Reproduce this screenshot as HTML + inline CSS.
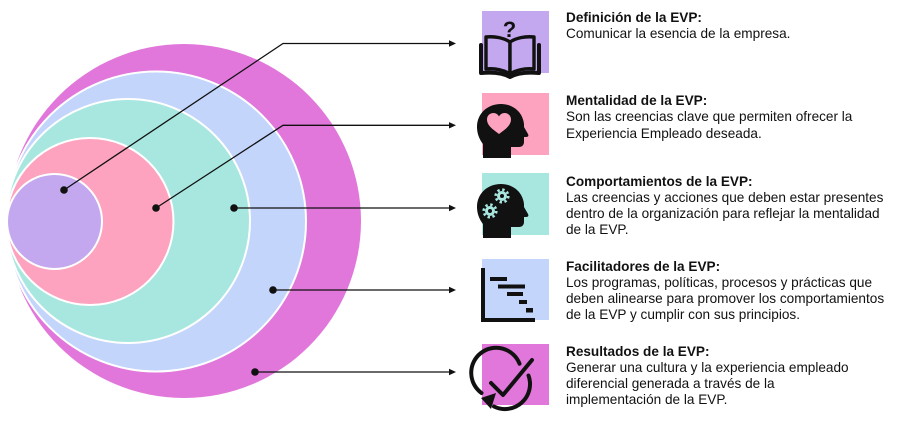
<!DOCTYPE html>
<html>
<head>
<meta charset="utf-8">
<style>
  html,body{margin:0;padding:0;background:#fff;}
  body{width:900px;height:422px;position:relative;overflow:hidden;}
  svg{position:absolute;left:0;top:0;}
  .t{position:absolute;left:566px;font-family:"Liberation Sans",Arial,sans-serif;font-size:13.6px;line-height:16.3px;color:#111;white-space:nowrap;}
  .t b{font-weight:bold;}
</style>
</head>
<body>
<svg width="900" height="422" viewBox="0 0 900 422">
  <!-- concentric circles -->
  <circle cx="184" cy="221" r="177" fill="#E277DB"/>
  <circle cx="156" cy="221.5" r="150" fill="#C3D5FB" stroke="#fff" stroke-width="2"/>
  <circle cx="128" cy="221" r="122" fill="#A8E7E0" stroke="#fff" stroke-width="2"/>
  <circle cx="90" cy="221.5" r="83.5" fill="#FDA3BF" stroke="#fff" stroke-width="2"/>
  <circle cx="54.5" cy="221.5" r="47.5" fill="#C3A8EF" stroke="#fff" stroke-width="2"/>

  <!-- connectors -->
  <g stroke="#111" stroke-width="1.3" fill="none">
    <polyline points="64,190 283,43.5 450,43.5"/>
    <polyline points="156,208 283,125.3 450,125.3"/>
    <polyline points="234,208 450,208"/>
    <polyline points="273,290 450,290"/>
    <polyline points="255,372 450,372"/>
  </g>
  <g fill="#111">
    <polygon points="449,40.3 456,43.5 449,46.7"/>
    <polygon points="449,122.1 456,125.3 449,128.5"/>
    <polygon points="449,204.8 456,208 449,211.2"/>
    <polygon points="449,286.8 456,290 449,293.2"/>
    <polygon points="449,368.8 456,372 449,375.2"/>
    <circle cx="64" cy="190" r="3.8"/>
    <circle cx="156" cy="208" r="3.8"/>
    <circle cx="234" cy="208" r="3.8"/>
    <circle cx="273" cy="290" r="3.8"/>
    <circle cx="255" cy="372" r="3.8"/>
  </g>

  <!-- icon squares -->
  <rect x="482" y="11" width="67" height="62" fill="#C3A8EF"/>
  <rect x="482" y="93" width="67" height="62" fill="#FDA3BF"/>
  <rect x="482" y="173" width="67" height="62" fill="#A8E7E0"/>
  <rect x="482" y="259" width="67" height="61" fill="#C3D5FB"/>
  <rect x="482" y="344" width="67" height="61" fill="#E277DB"/>

  <!-- icon 1: book with question mark -->
  <g transform="translate(478,25)" stroke="#111" stroke-width="3.4" stroke-linejoin="round" stroke-linecap="round">
    <path d="M 3 20 L 3 48 C 14 47, 25 48, 32 52 C 39 48, 50 47, 61 48 L 61 20" fill="none" stroke-width="4"/>
    <path d="M 32 49 C 26 45, 17 43, 8 44 L 8 12 C 17 11, 26 13, 32 17 Z" fill="#C3A8EF"/>
    <path d="M 32 49 C 38 45, 47 43, 56 44 L 56 12 C 47 11, 38 13, 32 17 Z" fill="#C3A8EF"/>
  </g>
  <text x="509.5" y="37" text-anchor="middle" font-family="Liberation Sans, Arial, sans-serif" font-weight="bold" font-size="22" fill="#111">?</text>

  <!-- icon 2: head with heart -->
  <g transform="translate(477,104)">
    <path d="M 6 54 L 6 40 C 2 35, 0 29, 0 23 C 0 10, 10 0, 24 0 C 37 0, 46 9, 47 20 L 47 23 L 51 30 C 52 32, 51 33, 49 33 L 47 33 L 47 38 C 47 41, 45 43, 42 43 L 34 43 L 34 54 Z" fill="#111"/>
    <path d="M22 30 C 15 25, 10 21, 10 15.5 C 10 11.5, 13 9, 16.5 9 C 19 9, 21 10.5, 22 12.5 C 23 10.5, 25 9, 27.5 9 C 31 9, 34 11.5, 34 15.5 C 34 21, 29 25, 22 30 Z" fill="#FDA3BF"/>
  </g>

  <!-- icon 3: head with gears -->
  <g transform="translate(477,184)">
    <path d="M 6 54 L 6 40 C 2 35, 0 29, 0 23 C 0 10, 10 0, 24 0 C 37 0, 46 9, 47 20 L 47 23 L 51 30 C 52 32, 51 33, 49 33 L 47 33 L 47 38 C 47 41, 45 43, 42 43 L 34 43 L 34 54 Z" fill="#111"/>
    <g fill="#A8E7E0">
      <circle cx="25" cy="12" r="5"/>
      <circle cx="25" cy="12" r="6.3" fill="none" stroke="#A8E7E0" stroke-width="2.6" stroke-dasharray="2.4 2.55"/>
      <circle cx="25" cy="12" r="2" fill="#111"/>
      <circle cx="13" cy="27" r="5"/>
      <circle cx="13" cy="27" r="6.3" fill="none" stroke="#A8E7E0" stroke-width="2.6" stroke-dasharray="2.4 2.55"/>
      <circle cx="13" cy="27" r="2" fill="#111"/>
    </g>
  </g>

  <!-- icon 4: gantt -->
  <g fill="#111">
    <rect x="481" y="268" width="4" height="54"/>
    <rect x="481" y="318" width="54" height="4"/>
    <rect x="490" y="277" width="17" height="4"/>
    <rect x="498" y="284.5" width="27" height="4"/>
    <rect x="507" y="292" width="16" height="4"/>
    <rect x="519" y="300" width="8" height="4"/>
    <rect x="526" y="308" width="7" height="4.5"/>
  </g>

  <!-- icon 5: check with circular arrow -->
  <g stroke="#111" stroke-width="4" fill="none" stroke-linecap="round" stroke-linejoin="round">
    <path d="M 481.5 393 A 25 25 0 1 1 519.5 363.7"/>
    <path d="M 528.5 375.5 A 25 25 0 0 1 494 406.5"/>
    <polyline points="491,383 503,395 532,360"/>
  </g>
  <polygon points="481,398 496,393 491,409" fill="#111"/>
</svg>

<div class="t" style="top:9.5px;"><b>Definición de la EVP:</b><br>Comunicar la esencia de la empresa.</div>
<div class="t" style="top:93px;"><b>Mentalidad de la EVP:</b><br>Son las creencias clave que permiten ofrecer la<br>Experiencia Empleado deseada.</div>
<div class="t" style="top:173.5px;"><b>Comportamientos de la EVP:</b><br>Las creencias y acciones que deben estar presentes<br>dentro de la organización para reflejar la mentalidad<br>de la EVP.</div>
<div class="t" style="top:258.5px;"><b>Facilitadores de la EVP:</b><br>Los programas, políticas, procesos y prácticas que<br>deben alinearse para promover los comportamientos<br>de la EVP y cumplir con sus principios.</div>
<div class="t" style="top:343.5px;"><b>Resultados de la EVP:</b><br>Generar una cultura y la experiencia empleado<br>diferencial generada a través de la<br>implementación de la EVP.</div>
</body>
</html>
